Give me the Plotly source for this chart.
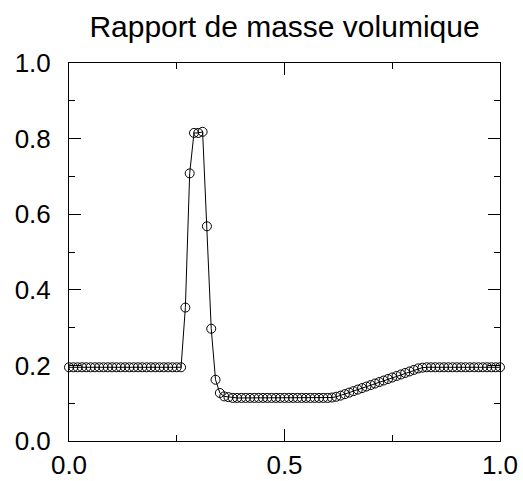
import plotly.graph_objects as go

x_vals = [round(i * 0.01, 2) for i in range(101)]

y_left = [0.195] * 27  # x = 0.00 .. 0.26
y_peak = [0.353, 0.708, 0.815, 0.815, 0.818, 0.568, 0.297, 0.162, 0.127, 0.118, 0.116]  # 0.27 .. 0.37
y_plateau = [0.114] * 23  # 0.38 .. 0.60
y_rise = [0.115, 0.117, 0.120, 0.124, 0.128, 0.132, 0.136, 0.140, 0.144, 0.148, 0.152,
          0.156, 0.160, 0.164, 0.168, 0.172, 0.176, 0.180, 0.184, 0.188, 0.192, 0.194]  # 0.61 .. 0.82
y_right = [0.195] * 18  # 0.83 .. 1.00
y_vals = y_left + y_peak + y_plateau + y_rise + y_right

title_text = "Rapport de masse volumique"
x_ticks = [0.0, 0.5, 1.0]
y_ticks = [0.0, 0.2, 0.4, 0.6, 0.8, 1.0]

fig = go.Figure()
fig.add_trace(go.Scatter(
    x=x_vals, y=y_vals, mode="lines+markers",
    line=dict(color="black", width=1),
    marker=dict(symbol="circle-open", size=9, color="black", line=dict(width=1, color="black")),
    showlegend=False, cliponaxis=False,
))

font = dict(family="Liberation Sans, Arial, sans-serif", color="black")
fig.update_layout(
    width=523, height=481,
    margin=dict(l=69, r=23, t=63, b=40, autoexpand=False),
    paper_bgcolor="white", plot_bgcolor="white",
    title=dict(text=title_text, x=0.544, xanchor="center", y=1 - 26 / 481, yanchor="middle",
               font=dict(size=30, **font), automargin=False),
    font=dict(size=26, **font),
)
axis_common = dict(
    showline=True, linecolor="black", linewidth=1, mirror="ticks",
    ticks="inside", ticklen=12, tickwidth=1, tickcolor="black",
    showgrid=False, zeroline=False, range=[0, 1], tickformat=".1f",
    tickfont=dict(size=26, **font), automargin=False,
)
fig.update_xaxes(**axis_common, tickvals=x_ticks, ticklabelstandoff=1,
                 minor=dict(ticks="inside", ticklen=6, dtick=0.25, tickcolor="black", showgrid=False))
fig.update_yaxes(**axis_common, tickvals=y_ticks, ticklabelstandoff=12,
                 minor=dict(ticks="inside", ticklen=6, dtick=0.1, tickcolor="black", showgrid=False))

fig.write_html("out.html", config={"displayModeBar": False},
               post_script="document.body.style.margin='0';document.body.style.overflow='hidden';")
